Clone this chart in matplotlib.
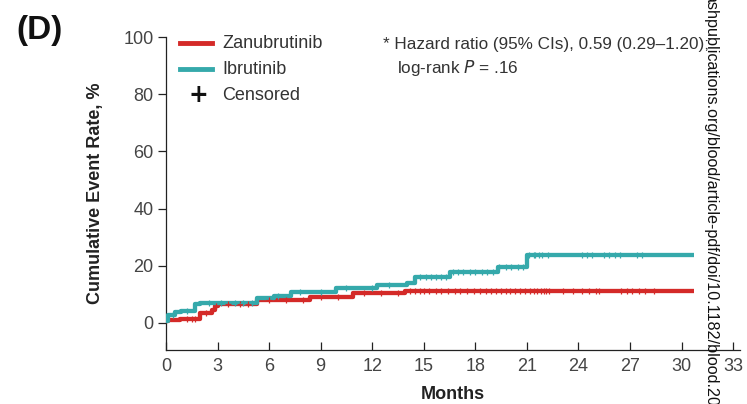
import matplotlib
matplotlib.use("Agg")
import matplotlib.pyplot as plt
import numpy as np

# ---- data ----
zanu_t = [0.0, 0.1, 0.8, 2.0, 2.65, 2.85, 3.0, 5.3, 8.4, 10.9, 13.9, 30.75]
zanu_y = [0.5, 1.0, 1.3, 3.4, 4.5, 5.9, 6.6, 7.9, 9.2, 10.4, 11.3, 11.3]
ibru_t = [0.0, 0.1, 0.5, 0.9, 1.7, 1.95, 5.3, 6.3, 7.3, 9.9, 12.25, 14.0, 14.5, 16.5, 19.3, 21.0, 30.75]
ibru_y = [0.5, 2.8, 3.7, 4.2, 6.6, 7.0, 8.6, 9.5, 10.9, 12.1, 13.3, 14.1, 16.0, 17.7, 19.7, 23.8, 23.8]

zanu_cens = [1.2, 1.5, 1.7, 2.3, 2.9, 3.6, 4.3, 4.8, 6.0, 7.0, 8.0, 9.0, 10.0, 11.5, 12.5, 13.5,
             14.2, 14.5, 14.8, 15.0, 15.3, 15.7, 16.0, 16.4, 16.8, 17.1, 17.5, 17.9, 18.3, 18.6,
             18.9, 19.2, 19.5, 19.8, 20.0, 20.3, 20.6, 20.9, 21.2, 21.4, 21.6, 21.8, 22.0, 22.1,
             22.3, 23.1, 23.7, 24.2, 24.6, 25.0, 25.2, 26.5, 26.8, 27.1, 27.5, 27.9, 28.4]
ibru_cens = [0.4, 1.2, 2.5, 3.2, 4.0, 4.5, 5.0, 6.5, 7.8, 9.0, 10.5, 12.0, 13.0,
             14.8, 15.1, 15.4, 15.7, 16.0, 16.3, 16.7, 17.0, 17.3, 17.7, 18.0, 18.4, 18.7, 19.0,
             19.4, 19.8, 20.1, 20.5, 20.8, 21.1, 21.4, 21.5, 21.7, 21.9, 22.2,
             24.2, 24.5, 24.8, 25.5, 25.8, 26.1, 26.4, 27.4, 27.7]

xticks = [0, 3, 6, 9, 12, 15, 18, 21, 24, 27, 30, 33]
yticks = [0, 20, 40, 60, 80, 100]

RED = "#d42a28"
TEAL = "#35a9ab"

plt.rcParams['font.family'] = ['Liberation Sans', 'DejaVu Sans']

fig = plt.figure(figsize=(7.47, 4.04), dpi=100)
ax = fig.add_axes([166/747, 1-350/404, (740-166)/747, (350-37)/404])


def step_at(t, ts, ys):
    idx = np.searchsorted(ts, t, side='right') - 1
    return np.asarray(ys)[idx]


for ts, ys, cens, col in [(zanu_t, zanu_y, zanu_cens, RED), (ibru_t, ibru_y, ibru_cens, TEAL)]:
    ax.step(ts, ys, where='post', color=col, lw=3.1, solid_capstyle='butt', zorder=3)
    cy = [step_at(c, ts, ys) for c in cens]
    ax.plot(cens, cy, ls='none', marker='+', ms=5, mew=0.9, color=col, zorder=4)

ax.set_xlim(0, 33.4)
ax.set_ylim(-9.5, 100)
ax.set_xticks(xticks)
ax.set_yticks(yticks)
ax.tick_params(axis='x', direction='in', length=6, width=0.9, colors='#222222',
               labelcolor='#444444', labelsize=13, pad=6)
ax.tick_params(axis='y', direction='out', length=6, width=0.9, colors='#222222',
               labelcolor='#444444', labelsize=13, pad=3)
for s in ['top', 'right']:
    ax.spines[s].set_visible(False)
for s in ['left', 'bottom']:
    ax.spines[s].set_linewidth(0.9)
    ax.spines[s].set_color('#222222')

ax.set_xlabel("Months", fontsize=13, fontweight='bold', color='#222222', labelpad=8)
ax.set_ylabel("Cumulative Event Rate, %", fontsize=13, fontweight='bold',
              color='#222222', labelpad=14)

# legend (manual)
fx = lambda px: px / 747
fy = lambda py: 1 - py / 404
fig.add_artist(plt.Line2D([fx(180), fx(212)], [fy(43), fy(43)], color=RED, lw=3.5))
fig.add_artist(plt.Line2D([fx(180), fx(212)], [fy(69), fy(69)], color=TEAL, lw=3.5))
fig.text(fx(198), fy(95), "+", fontsize=17, fontweight='bold', ha='center', va='center',
         family=['DejaVu Sans'], color='#111111')
for py, lab in [(43, "Zanubrutinib"), (69, "Ibrutinib"), (95, "Censored")]:
    fig.text(fx(222), fy(py), lab, fontsize=13, va='center', ha='left', color='#333333')

fig.text(fx(383), fy(45), "* Hazard ratio (95% CIs), 0.59 (0.29\u20131.20);", fontsize=12.3,
         va='center', ha='left', color='#333333')
fig.text(fx(397), fy(68), "log-rank $\\it{P}$ = .16", fontsize=12.3, va='center', ha='left',
         color='#333333')

fig.text(fx(40), fy(30), "(D)", fontsize=24, fontweight='bold', va='center', ha='center',
         color='#111111')

fig.text(fx(711), fy(406), "ashpublications.org/blood/article-pdf/doi/10.1182/blood.20",
         rotation=-90, fontsize=11.6, va='center', ha='right',
         color='#111111', rotation_mode='anchor')

fig.savefig("out.png", dpi=100)
